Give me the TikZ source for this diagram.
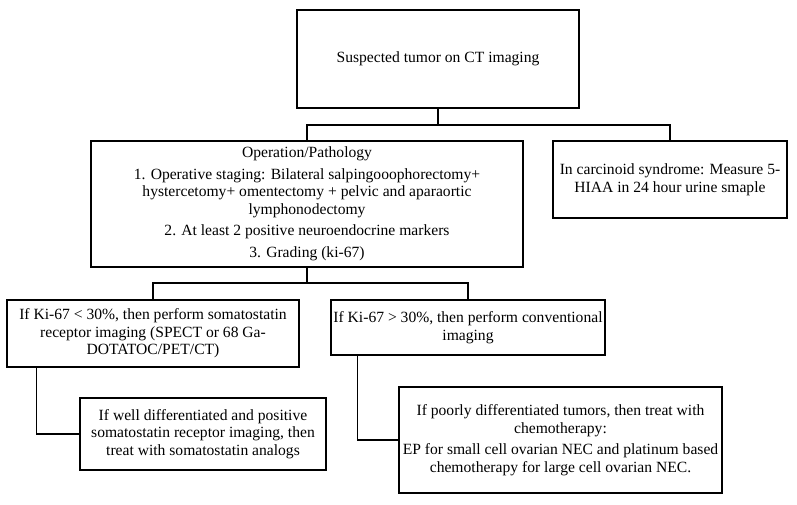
\documentclass[tikz,border=0pt]{standalone}
\usepackage{fontspec}
\setmainfont{Liberation Serif}
\begin{document}
\begin{tikzpicture}[x=1pt,y=-1pt]
        \tikzset{
            flowbox/.style={rectangle,draw=black,line width=1.4pt,align=center,
                font=\fontsize{15.6}{17.5}\selectfont,inner sep=0pt},
            link/.style={line width=1.4pt},
        }
        \useasboundingbox (0,0) rectangle (797,505);

        \node[flowbox,minimum width=282,minimum height=98] (tumor) at(438,59) {Suspected tumor on CT imaging};
        \node[flowbox,minimum width=432,minimum height=126] (oper) at(307,204)
            {Operation/Pathology\\[4pt]
             1. Operative staging: Bilateral salpingooophorectomy+\\
             hystercetomy+ omentectomy + pelvic and aparaortic\\
             lymphonodectomy\\[4pt]
             2. At least 2 positive neuroendocrine markers\\[4pt]
             3. Grading (ki-67)};
        \node[flowbox,minimum width=234,minimum height=77] (carc) at(670,179.5)
            {In carcinoid syndrome: Measure 5-\\HIAA in 24 hour urine smaple};
        \node[flowbox,minimum width=292,minimum height=67] (kilow) at(153,333.5)
            {If Ki-67 < 30\%, then perform somatostatin\\
             receptor imaging (SPECT or 68 Ga-\\DOTATOC/PET/CT)};
        \node[flowbox,minimum width=274,minimum height=55] (kihigh) at(468,327.5)
            {If Ki-67 > 30\%, then perform conventional\\imaging};
        \node[flowbox,minimum width=246,minimum height=72] (well) at(203,434)
            {If well differentiated and positive\\
             somatostatin receptor imaging, then\\
             treat with somatostatin analogs};
        \node[flowbox,minimum width=323,minimum height=106] (poor) at(560.5,440)
            {If poorly differentiated tumors, then treat with\\
             chemotherapy:\\[4pt]
             EP for small cell ovarian NEC and platinum based\\
             chemotherapy for large cell ovarian NEC.};

        \coordinate (j1) at(438,125);
        \coordinate (j2) at(307,283);

        \draw[link] (tumor) -- (j1);
        \draw[link] (oper.north) |- (j1) -| (carc.north);
        \draw[link] (oper) -- (j2);
        \draw[link] (kilow.north) |- (j2) -| (kihigh.north);
        \draw[link] ([xshift=30pt]kilow.south west) |- (well.west);
        \draw[link] ([xshift=27pt]kihigh.south west) |- (poor.west);
    \end{tikzpicture}
\end{document}
